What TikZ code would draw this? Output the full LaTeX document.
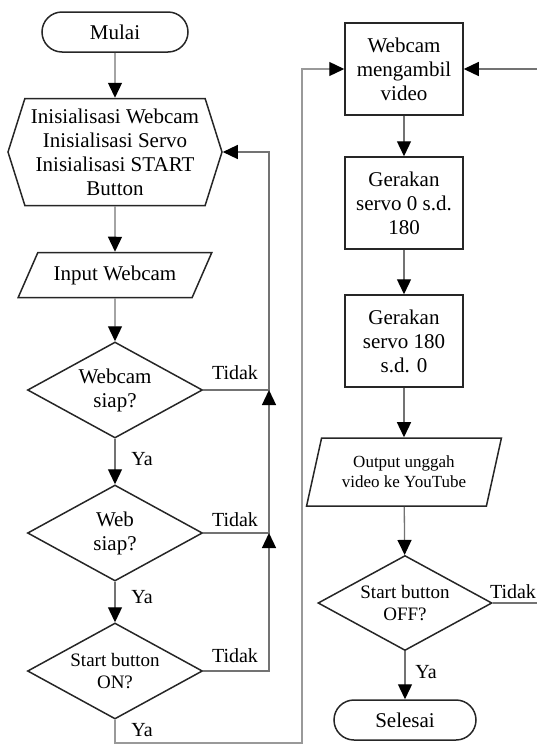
\documentclass[tikz,border=0pt]{standalone}
\usepackage{fontspec}
\setmainfont{Liberation Serif}
\usetikzlibrary{shapes,arrows.meta,positioning}

\begin{document}
\begin{tikzpicture}[x=1pt,y=-1pt,
	base/.style={draw=black!85, line width=1.5pt, align=center, font=\fontsize{21}{24}\selectfont, inner sep=2pt},
	term/.style={base, rounded corners=20pt, minimum height=40pt},
	prep/.style={base, shape=signal, signal to=west and east, signal pointer angle=145, minimum width=214pt, minimum height=107pt},
	io/.style={base, shape=trapezium, trapezium stretches=true, trapezium left angle=55, trapezium right angle=125},
	proc/.style={base, rectangle, minimum width=118pt, minimum height=92pt},
	cond/.style={base, shape=diamond, aspect=1.8, minimum width=175pt, minimum height=96pt, inner sep=0pt},
	small/.style={font=\fontsize{19}{22}\selectfont},
	line/.style={draw=black!55, line width=1.3pt},
	arr/.style={line, -{Triangle[length=15pt,width=14pt,color=black]}},
	lbl/.style={font=\fontsize{20}{22}\selectfont}]
	\useasboundingbox (0,0) rectangle (537,745);

	% left column
	\node[term, minimum width=146pt] (mulai) at (115,32) {Mulai};
	\node[prep] (init) at (115,152) {Inisialisasi Webcam\\Inisialisasi Servo\\Inisialisasi START\\Button};
	\node[io, minimum width=194pt, minimum height=45pt] (input) at (115,275) {Input Webcam};
	\node[cond] (siap1) at (115,390) {Webcam\\siap?};
	\node[cond] (siap2) at (115,533) {Web\\siap?};
	\node[cond, small] (on) at (115,671) {Start button\\ON?};

	% right column
	\node[proc] (ambil) at (404,69) {Webcam\\mengambil\\video};
	\node[proc] (servoa) at (404,203) {Gerakan\\servo 0 s.d.\\180};
	\node[proc] (servob) at (404,341) {Gerakan\\servo 180\\s.d. 0};
	\node[io, trapezium left angle=72, trapezium right angle=108, minimum width=195pt, minimum height=68pt, font=\fontsize{17}{20}\selectfont] (unggah) at (404,472) {Output unggah\\video ke YouTube};
	\node[cond, small, minimum width=174pt, minimum height=95pt] (off) at (405,603) {Start button\\OFF?};
	\node[term, minimum width=142pt] (selesai) at (405,720) {Selesai};

	\coordinate (j1) at (269,390);
	\coordinate (j2) at (269,533);
	\coordinate (j3) at (269,671);

	\path [arr] (mulai) edge (init);
	\path [arr] (init) edge (input);
	\path [arr] (input) edge (siap1);
	\path [arr] (siap1) edge (siap2);
	\path [arr] (siap2) edge (on);

	\path [arr] (ambil) edge (servoa);
	\path [arr] (servoa) edge (servob);
	\path [arr] (servob) edge (unggah);
	\path [arr] (unggah) edge (off);
	\path [arr] (off) edge (selesai);

	% Tidak loops
	\draw [arr] (siap1.east) -- (j1) |- (init.east);
	\draw [arr] (siap2.east) -- (j2) -- (j1);
	\draw [arr] (on.east) -- (j3) -- (j2);
	\draw [arr, draw=black!40] (on.south) |- (302,743) |- (ambil.west);
	\draw [arr] (off.east) -| (545,69) -- (ambil.east);

	\node[lbl] at (235,373) {Tidak};
	\node[lbl] at (235,520) {Tidak};
	\node[lbl] at (235,656) {Tidak};
	\node[lbl] at (513,592) {Tidak};
	\node[lbl] at (142,459) {Ya};
	\node[lbl] at (142,597) {Ya};
	\node[lbl] at (142,730) {Ya};
	\node[lbl] at (426,672) {Ya};
\end{tikzpicture}
\end{document}
